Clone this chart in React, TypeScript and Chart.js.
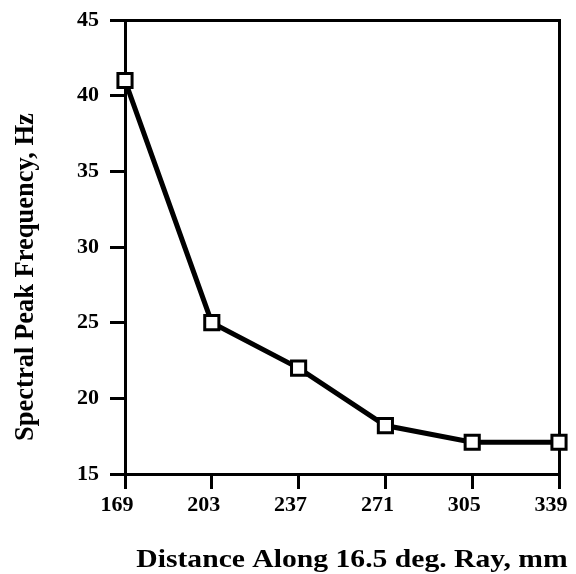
import React, { useEffect, useRef } from "react";
import { Chart, registerables } from "chart.js";

Chart.register(...registerables);

const distances = [169, 203, 237, 271, 305, 339];
const peakFrequency = [41, 25, 22, 18.2, 17.1, 17.1];
const xTickValues = [169, 203, 237, 271, 305, 339];
const yTickValues = [15, 20, 25, 30, 35, 40, 45];
const xTitle = "Distance Along 16.5 deg. Ray, mm";
const yTitle = "Spectral Peak Frequency, Hz";

const FONT = "'Liberation Serif', 'Times New Roman', serif";

const titlesPlugin = {
  id: "titles",
  afterDraw(chart: any) {
    const { ctx, chartArea } = chart;
    const cx = (chartArea.left + chartArea.right) / 2;
    const cy = (chartArea.top + chartArea.bottom) / 2;
    ctx.save();
    ctx.fillStyle = "#000";
    ctx.textAlign = "center";
    ctx.textBaseline = "alphabetic";
    // x title (slightly widened, like the scanned original)
    ctx.save();
    ctx.translate(cx + 10, chartArea.bottom + 93);
    ctx.scale(1.14, 1);
    ctx.font = `bold 26px ${FONT}`;
    ctx.fillText(xTitle, 0, 0);
    ctx.restore();
    // y title
    ctx.save();
    ctx.translate(chartArea.left - 92, cy + 30);
    ctx.rotate(-Math.PI / 2);
    ctx.font = `bold 26.5px ${FONT}`;
    ctx.fillText(yTitle, 0, 0);
    ctx.restore();
    ctx.restore();
  },
};

export default function App() {
  const ref = useRef<HTMLCanvasElement | null>(null);

  useEffect(() => {
    document.body.style.margin = "0";
    const canvas = ref.current!;
    const chart = new Chart(canvas, {
      type: "line",
      data: {
        datasets: [
          {
            data: distances.map((d, i) => ({ x: d, y: peakFrequency[i] })),
            borderColor: "#000",
            borderWidth: 5,
            pointStyle: "rect",
            pointRadius: 10,
            pointBorderWidth: 3,
            pointBackgroundColor: "#fff",
            pointBorderColor: "#000",
            tension: 0,
            clip: false as any,
          },
        ],
      },
      plugins: [titlesPlugin],
      options: {
        responsive: false,
        animation: false,
        layout: { padding: 0 },
        plugins: { legend: { display: false }, tooltip: { enabled: false } },
        scales: {
          x: {
            type: "linear",
            position: "bottom",
            min: 169,
            max: 339,
            afterBuildTicks: (s: any) => {
              s.ticks = xTickValues.map((v) => ({ value: v }));
            },
            afterFit: (s: any) => {
              s.height = 100;
              s.paddingLeft = 0;
              s.paddingRight = 0;
            },
            grid: {
              display: true,
              drawOnChartArea: false,
              drawTicks: true,
              tickLength: 15,
              color: "#000",
              lineWidth: 3,
            },
            border: { display: true, color: "#000", width: 3 },
            ticks: {
              color: "#000",
              padding: 3,
              labelOffset: -8,
              maxRotation: 0,
              autoSkip: false,
              font: { family: FONT, size: 22, weight: "bold" },
              callback: (v: any) => String(v),
            },
          },
          xTop: {
            type: "linear",
            position: "top",
            afterFit: (s: any) => {
              s.height = 20;
              s.paddingLeft = 0;
              s.paddingRight = 0;
            },
            grid: { display: false, drawTicks: false },
            ticks: { display: false },
            border: { display: true, color: "#000", width: 3 },
          },
          y: {
            type: "linear",
            position: "left",
            min: 15,
            max: 45,
            afterBuildTicks: (s: any) => {
              s.ticks = yTickValues.map((v) => ({ value: v }));
            },
            afterFit: (s: any) => {
              s.width = 125;
              s.paddingTop = 0;
              s.paddingBottom = 0;
            },
            grid: {
              display: true,
              drawOnChartArea: false,
              drawTicks: true,
              tickLength: 15,
              color: "#000",
              lineWidth: 3,
            },
            border: { display: true, color: "#000", width: 3 },
            ticks: {
              color: "#000",
              padding: 11,
              autoSkip: false,
              font: { family: FONT, size: 22, weight: "bold" },
              callback: (v: any) => String(v),
            },
          },
          yRight: {
            type: "linear",
            position: "right",
            afterFit: (s: any) => {
              s.width = 17;
              s.paddingTop = 0;
              s.paddingBottom = 0;
            },
            grid: { display: false, drawTicks: false },
            ticks: { display: false },
            border: { display: true, color: "#000", width: 3 },
          },
        },
      } as any,
    });
    return () => chart.destroy();
  }, []);

  return (
    <div style={{ position: "absolute", left: 0, top: 0, width: 576, height: 574, background: "#fff" }}>
      <canvas ref={ref} width={576} height={574} style={{ width: 576, height: 574 }} />
    </div>
  );
}
